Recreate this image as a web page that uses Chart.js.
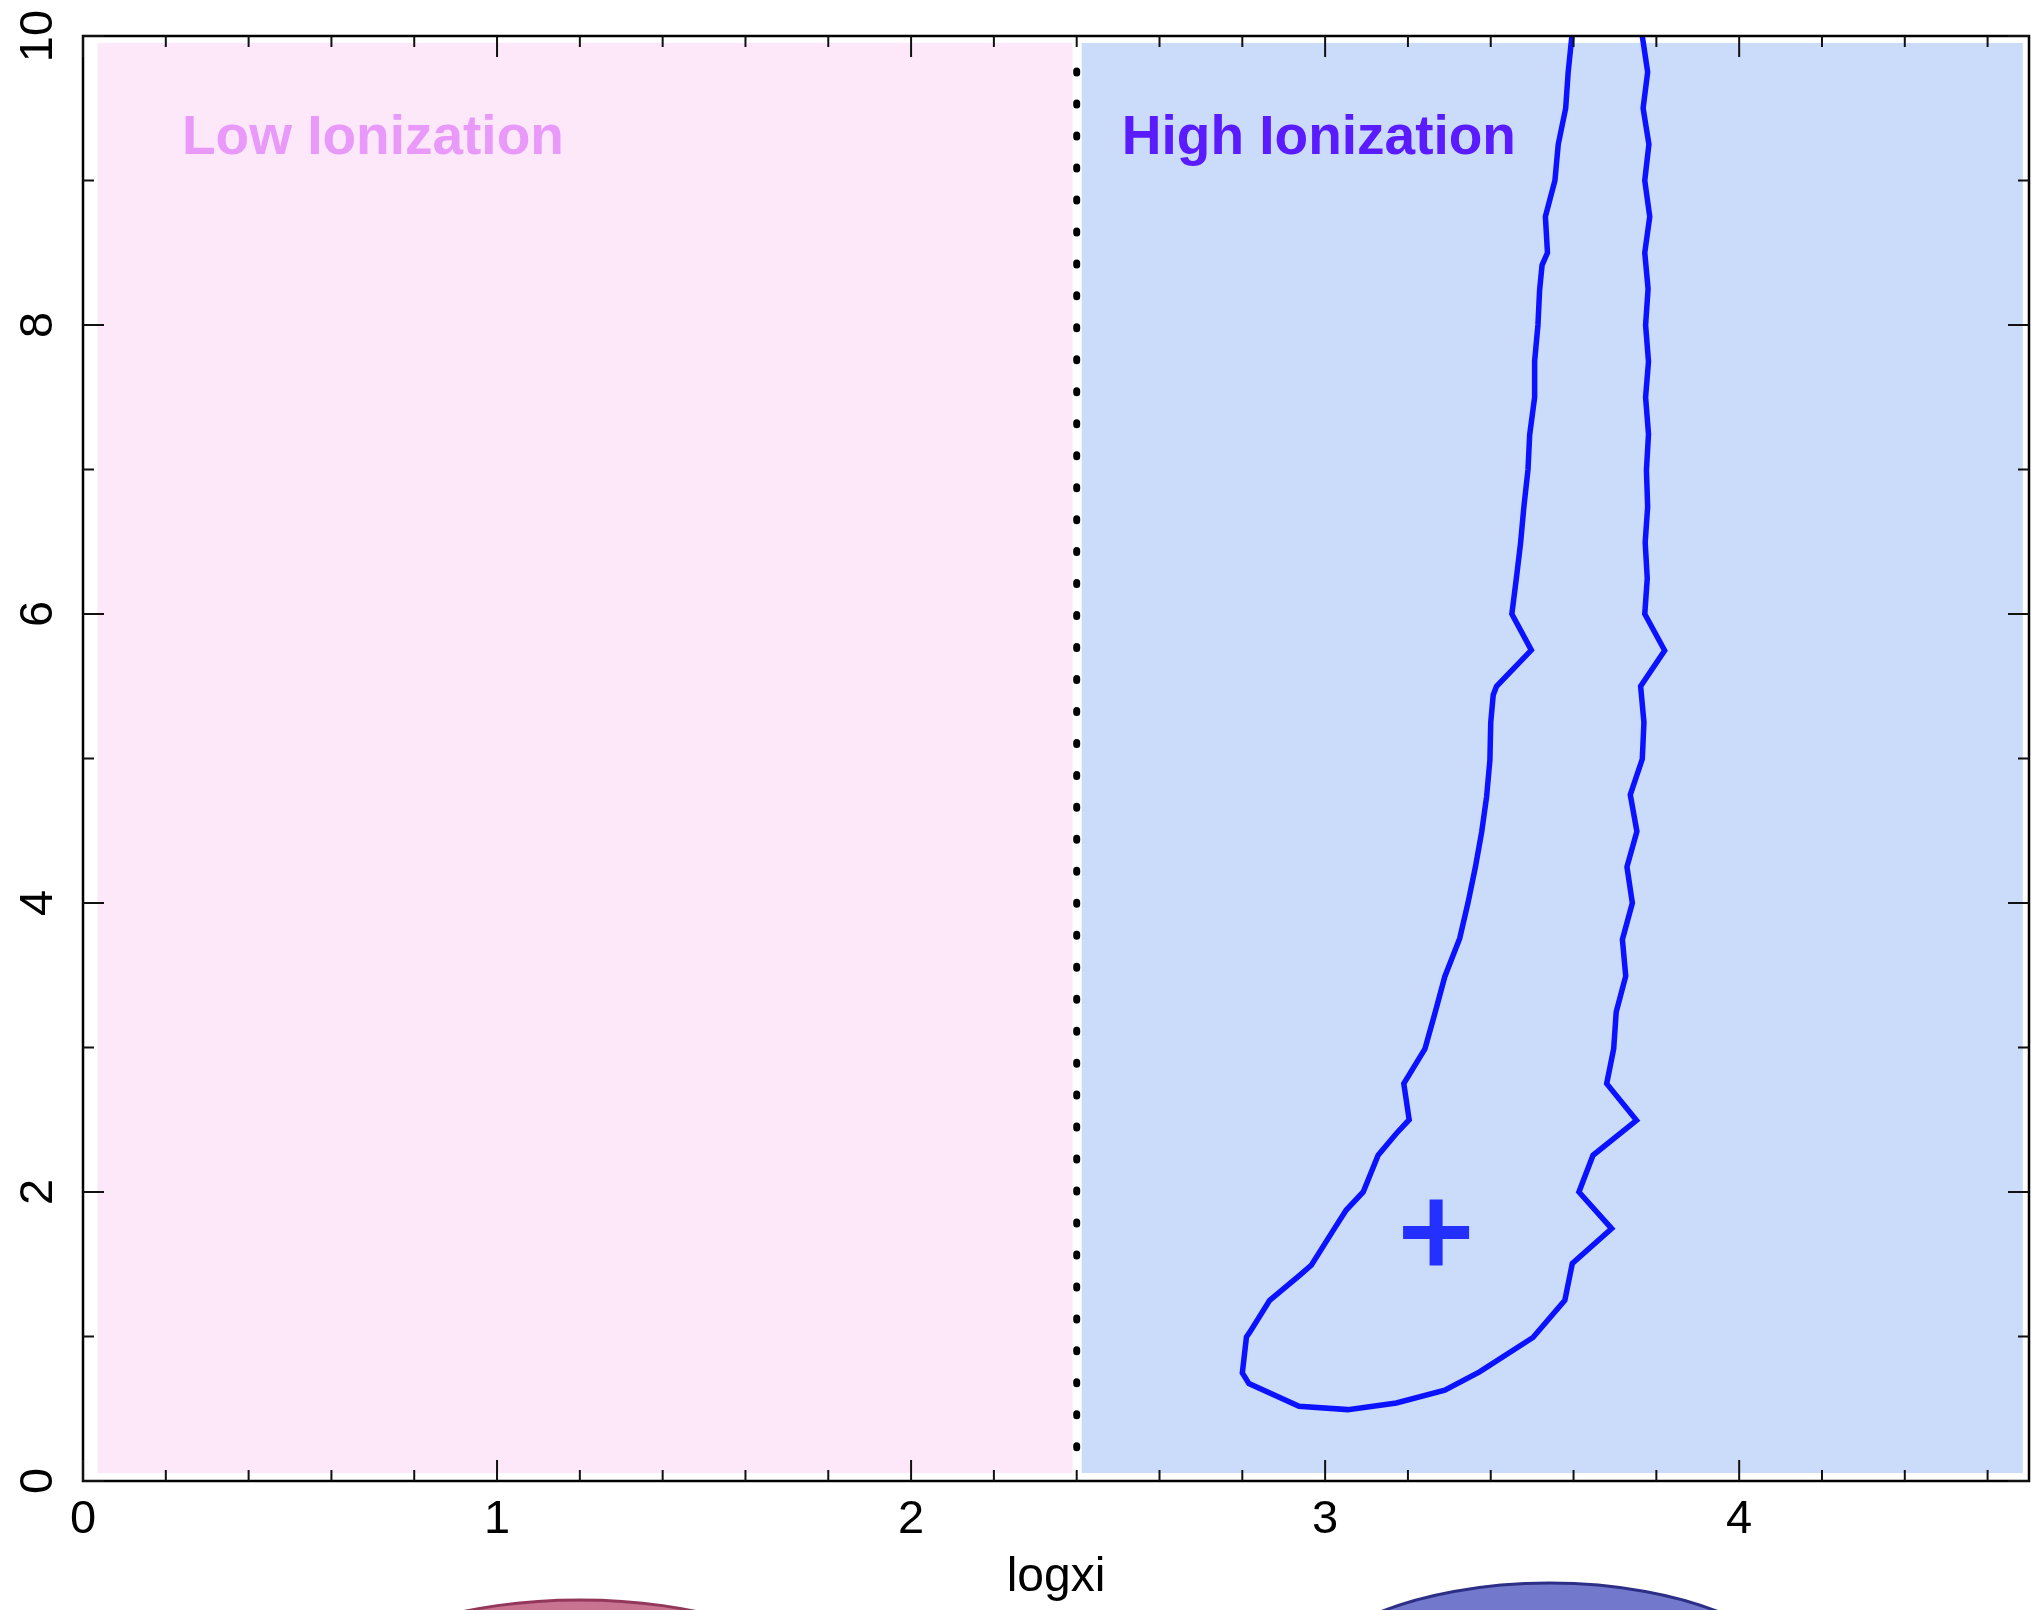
<!DOCTYPE html>
<html>
<head>
<meta charset="utf-8">
<script src="https://cdn.jsdelivr.net/npm/chart.js@4.4.1/dist/chart.umd.min.js"></script>
<style>
  html, body { margin: 0; padding: 0; background: #fff; }
  #wrap { width: 2031px; height: 1610px; }
</style>
</head>
<body>
<div id="wrap"><canvas id="chart" width="2031" height="1610"></canvas></div>
<script>
// ── Data ──────────────────────────────────────────────────────────────────────

const xTickLabels = [0, 1, 2, 3, 4];
const yTickLabels = [0, 2, 4, 6, 8, 10];

// confidence contour (open at the top edge)
const contourX = [3.596, 3.587, 3.581, 3.563, 3.555, 3.532, 3.537, 3.524, 3.518, 3.514,
    3.506, 3.506, 3.494, 3.490, 3.480, 3.472, 3.462, 3.451, 3.498, 3.414,
    3.406, 3.400, 3.398, 3.390, 3.378, 3.363, 3.345, 3.325, 3.289, 3.265,
    3.241, 3.190, 3.203, 3.172, 3.128, 3.092, 3.051, 3.023, 2.967, 2.939,
    2.866, 2.818, 2.810, 2.800, 2.816, 2.937, 3.055, 3.172, 3.289, 3.373,
    3.502, 3.579, 3.597, 3.692, 3.613, 3.647, 3.752, 3.680, 3.697, 3.703,
    3.726, 3.718, 3.742, 3.729, 3.753, 3.737, 3.766, 3.770, 3.762, 3.820,
    3.772, 3.778, 3.773, 3.779, 3.776, 3.781, 3.774, 3.781, 3.774, 3.780,
    3.772, 3.784, 3.772, 3.782, 3.768, 3.779, 3.766];
const contourY = [10.0, 9.75, 9.5, 9.25, 9.0, 8.75, 8.5, 8.415, 8.24, 8.0,
    7.75, 7.5, 7.24, 7.0, 6.74, 6.49, 6.25, 6.0, 5.75, 5.5,
    5.44, 5.25, 4.99, 4.735, 4.49, 4.25, 4.0, 3.755, 3.49, 3.235,
    2.99, 2.75, 2.5, 2.405, 2.255, 2.0, 1.875, 1.75, 1.495, 1.425,
    1.25, 1.03, 0.997, 0.748, 0.674, 0.517, 0.494, 0.54, 0.628, 0.755,
    0.993, 1.251, 1.505, 1.747, 2.0, 2.254, 2.496, 2.75, 2.993, 3.246,
    3.494, 3.748, 4.0, 4.25, 4.495, 4.749, 4.996, 5.25, 5.5, 5.747,
    6.0, 6.246, 6.495, 6.742, 6.995, 7.245, 7.5, 7.747, 8.0, 8.25,
    8.5, 8.75, 9.0, 9.25, 9.5, 9.75, 10.0];

const bestFitX = [3.268];
const bestFitY = [1.72];

const dividerX = [2.4, 2.4];
const dividerY = [0.23, 9.962];

const regionNames = ['Low Ionization', 'High Ionization'];
const regionFrom = [0.035, 2.412];
const regionTo = [2.39, 4.685];
const regionSpan = [0.055, 9.952];
const regionLabelX = [0.239, 2.509];
const regionLabelY = 9.18;

// pieces of the next panel peeking in below the axis title
const blobX = [1.2, 3.542];

// ── Styles ────────────────────────────────────────────────────────────────────

const FONT = '"Liberation Sans", Arial, Helvetica, sans-serif';
const regionFill = ['#fde8fa', '#cbdcfb'];
const regionInk = ['#e899fa', '#5a1bff'];
const blobStyle = [
    { rx: 225, ry: 80, top: 1600, fill: '#c8738f', edge: '#93385a' },
    { rx: 260, ry: 120, top: 1583, fill: '#7278cc', edge: '#2d2f86' },
];

// ── Plugins ───────────────────────────────────────────────────────────────────

const backdropPlugin = {
    id: 'backdrop',
    beforeDatasetsDraw(chart) {
        const { ctx, scales: { x, y } } = chart;
        ctx.save();
        const top = y.getPixelForValue(regionSpan[1]);
        const bottom = y.getPixelForValue(regionSpan[0]);
        regionNames.forEach((name, i) => {
            const left = x.getPixelForValue(regionFrom[i]);
            const right = x.getPixelForValue(regionTo[i]);
            ctx.fillStyle = regionFill[i];
            ctx.fillRect(left, top, right - left, bottom - top);
        });
        ctx.font = `bold 55px ${FONT}`;
        ctx.textAlign = 'left';
        ctx.textBaseline = 'alphabetic';
        regionNames.forEach((name, i) => {
            ctx.fillStyle = regionInk[i];
            ctx.fillText(name, x.getPixelForValue(regionLabelX[i]), y.getPixelForValue(regionLabelY));
        });
        ctx.restore();
    },
};

// frame on all four sides with ticks pointing inward
const frameTicksPlugin = {
    id: 'frameTicks',
    afterDatasetsDraw(chart) {
        const { ctx, chartArea: a, scales: { x, y } } = chart;
        ctx.save();
        ctx.strokeStyle = '#000';
        ctx.lineWidth = 2.5;
        ctx.strokeRect(a.left, a.top, a.right - a.left, a.bottom - a.top);

        ctx.strokeStyle = '#111';
        ctx.lineWidth = 2;
        ctx.beginPath();
        for (let k = 0; k * 0.2 <= x.max + 1e-9; k++) {
            const v = Math.round(k * 2) / 10;
            const len = xTickLabels.includes(v) ? 21 : 11;
            const px = x.getPixelForValue(v);
            ctx.moveTo(px, a.bottom); ctx.lineTo(px, a.bottom - len);
            ctx.moveTo(px, a.top); ctx.lineTo(px, a.top + len);
        }
        for (let v = 0; v <= y.max; v++) {
            const len = yTickLabels.includes(v) ? 21 : 11;
            const py = y.getPixelForValue(v);
            ctx.moveTo(a.left, py); ctx.lineTo(a.left + len, py);
            ctx.moveTo(a.right, py); ctx.lineTo(a.right - len, py);
        }
        ctx.stroke();
        ctx.restore();
    },
};

const blobPlugin = {
    id: 'blobs',
    afterDraw(chart) {
        const { ctx, scales: { x } } = chart;
        ctx.save();
        blobX.forEach((v, i) => {
            const s = blobStyle[i];
            ctx.beginPath();
            ctx.ellipse(x.getPixelForValue(v), s.top + s.ry, s.rx, s.ry, 0, 0, Math.PI * 2);
            ctx.fillStyle = s.fill;
            ctx.fill();
            ctx.lineWidth = 3;
            ctx.strokeStyle = s.edge;
            ctx.stroke();
        });
        ctx.restore();
    },
};

// ── Chart ─────────────────────────────────────────────────────────────────────

const zip = (xs, ys) => xs.map((v, i) => ({ x: v, y: ys[i] }));

new Chart(document.getElementById('chart'), {
    type: 'scatter',
    data: {
        datasets: [
            {
                data: zip(dividerX, dividerY),
                showLine: true,
                borderColor: '#000',
                borderWidth: 7,
                borderDash: [2, 29.97],
                borderCapStyle: 'round',
                pointRadius: 0,
            },
            {
                data: zip(contourX, contourY),
                showLine: true,
                borderColor: '#0a12ff',
                borderWidth: 5.5,
                tension: 0,
                pointRadius: 0,
            },
            {
                data: zip(bestFitX, bestFitY),
                pointStyle: 'cross',
                pointRadius: 33,
                borderWidth: 13,
                borderColor: '#2430ff',
                backgroundColor: '#2430ff',
            },
        ],
    },
    options: {
        responsive: false,
        animation: false,
        events: [],
        layout: { autoPadding: false, padding: { left: 0, right: 2, top: 36, bottom: 0 } },
        plugins: { legend: { display: false }, tooltip: { enabled: false } },
        scales: {
            x: {
                type: 'linear',
                min: 0,
                max: 4.7,
                afterBuildTicks: (s) => { s.ticks = xTickLabels.map((v) => ({ value: v })); },
                afterFit: (s) => {
                    s.height = 129;
                    s.paddingLeft = 0;
                    s.paddingRight = 0;
                },
                grid: { display: false, drawTicks: false },
                border: { display: false },
                ticks: {
                    autoSkip: false,
                    maxRotation: 0,
                    padding: 11,
                    color: '#000',
                    font: { family: FONT, size: 47 },
                },
                title: {
                    display: true,
                    text: 'logxi',
                    color: '#000',
                    font: { family: FONT, size: 48 },
                    padding: { top: 0, bottom: 3 },
                },
            },
            y: {
                type: 'linear',
                min: 0,
                max: 10,
                afterBuildTicks: (s) => { s.ticks = yTickLabels.map((v) => ({ value: v })); },
                afterFit: (s) => {
                    s.width = 83;
                    s.paddingTop = 0;
                    s.paddingBottom = 0;
                },
                grid: { display: false, drawTicks: false },
                border: { display: false },
                ticks: {
                    autoSkip: false,
                    minRotation: 90,
                    maxRotation: 90,
                    crossAlign: 'center',
                    padding: 18,
                    color: '#000',
                    font: { family: FONT, size: 47 },
                },
            },
        },
    },
    plugins: [backdropPlugin, frameTicksPlugin, blobPlugin],
});
</script>
</body>
</html>
